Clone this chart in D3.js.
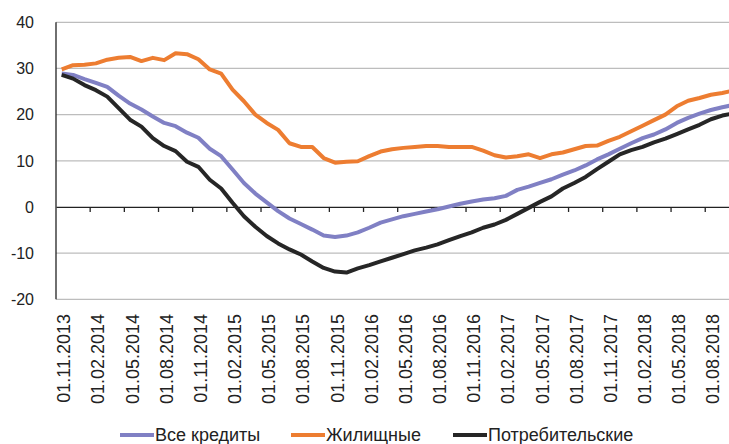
<html>
<head>
<meta charset="utf-8">
<style>
  body { margin: 0; background: white; font-family: "Liberation Sans", sans-serif; }
  svg { display: block; overflow: hidden; }
</style>
<script src="https://cdn.jsdelivr.net/npm/d3@7"></script>
</head>
<body>
<svg id="chart"></svg>
<script>

// monthly categories, 01.11.2013 .. 01.10.2018 (the last one is cut by the frame)
let months = d3.timeMonth.range(new Date(2013, 10, 1), new Date(2018, 10, 1))
let fmt = d3.timeFormat("%d.%m.%Y")
let categories = months.map(d => fmt(d))

let tickLabels = ["01.11.2013", "01.02.2014", "01.05.2014", "01.08.2014", "01.11.2014",
  "01.02.2015", "01.05.2015", "01.08.2015", "01.11.2015", "01.02.2016", "01.05.2016",
  "01.08.2016", "01.11.2016", "01.02.2017", "01.05.2017", "01.08.2017", "01.11.2017",
  "01.02.2018", "01.05.2018", "01.08.2018"]

let yTicks = [-20, -10, 0, 10, 20, 30, 40]

let allLoans = [28.9, 28.6, 27.7, 26.9, 26.0, 24.1, 22.4, 21.1, 19.6, 18.2,
  17.5, 16.1, 15.0, 12.6, 11.0, 8.1, 5.2, 2.9, 1.0, -0.9,
  -2.5, -3.7, -4.9, -6.2, -6.5, -6.2, -5.5, -4.5, -3.4, -2.7,
  -2.0, -1.5, -1.0, -0.5, 0.1, 0.7, 1.2, 1.6, 1.9, 2.4,
  3.7, 4.4, 5.2, 6.0, 7.0, 7.9, 9.0, 10.3, 11.4, 12.6,
  13.8, 14.9, 15.7, 16.8, 18.2, 19.3, 20.2, 21.0, 21.6, 22.1]

let housing = [29.8, 30.7, 30.8, 31.1, 31.9, 32.3, 32.5, 31.6, 32.3, 31.8,
  33.3, 33.1, 32.0, 29.8, 28.9, 25.4, 22.9, 20.0, 18.2, 16.7,
  13.8, 13.0, 13.0, 10.6, 9.6, 9.8, 9.9, 11.0, 12.0, 12.5,
  12.8, 13.0, 13.2, 13.2, 13.0, 13.0, 13.0, 12.2, 11.2, 10.7,
  11.0, 11.4, 10.6, 11.4, 11.8, 12.5, 13.2, 13.3, 14.3, 15.2,
  16.4, 17.6, 18.8, 20.0, 21.8, 23.0, 23.6, 24.3, 24.7, 25.2]

let consumer = [28.6, 27.8, 26.4, 25.3, 23.9, 21.4, 18.9, 17.4, 14.9, 13.2,
  12.1, 9.8, 8.7, 5.9, 4.0, 0.9, -2.0, -4.3, -6.3, -7.9,
  -9.2, -10.3, -11.8, -13.2, -14.0, -14.2, -13.3, -12.6, -11.8, -11.0,
  -10.2, -9.4, -8.8, -8.1, -7.2, -6.3, -5.5, -4.5, -3.8, -2.8,
  -1.5, -0.2, 1.1, 2.3, 4.0, 5.2, 6.5, 8.2, 9.8, 11.4,
  12.3, 13.0, 14.0, 14.8, 15.8, 16.8, 17.8, 19.0, 19.8, 20.3]

let seriesNames = ["Все кредиты", "Жилищные", "Потребительские"]
let seriesColors = ["#8080c4", "#ed7d31", "#262626"]

let width = 729
let height = 444
let left = 56
let step = 11.39

let svg = d3.select("#chart")
  .attr("width", width)
  .attr("height", height)

let x = d3.scaleBand()
  .domain(categories)
  .range([left, left + step * categories.length])

let y = d3.scaleLinear()
  .domain([-20, 40])
  .range([299.3, 22.3])

// gridlines
svg.append("g").selectAll("line")
  .data(yTicks.filter(d => d != 0))
  .enter().append("line")
  .attr("x1", left).attr("x2", x.range()[1])
  .attr("y1", d => y(d)).attr("y2", d => y(d))
  .attr("stroke", "#bdbdbd")
  .attr("stroke-width", 1.3)

// y labels
svg.append("g").selectAll("text")
  .data(yTicks)
  .enter().append("text")
  .attr("x", 34)
  .attr("y", d => y(d))
  .attr("dy", "0.36em")
  .attr("text-anchor", "end")
  .attr("font-size", 16)
  .attr("fill", "#222")
  .text(d => d)

// y axis line
svg.append("line")
  .attr("x1", left).attr("x2", left)
  .attr("y1", y(40)).attr("y2", y(-20))
  .attr("stroke", "#222").attr("stroke-width", 1.3)

// zero line with category ticks every 3 months
let xAxis = d3.axisBottom(x)
  .tickValues(categories.filter((d, i) => i % 3 == 0))
  .tickSize(0)
  .tickFormat("")
let gx = svg.append("g")
  .attr("transform", `translate(0,${y(0)})`)
  .call(xAxis)
gx.select(".domain").attr("stroke", "#222").attr("stroke-width", 1.3)
gx.selectAll(".tick").remove()

svg.append("g").selectAll("line")
  .data(categories.filter((d, i) => i % 3 == 0 && i > 0))
  .enter().append("line")
  .attr("x1", d => x(d)).attr("x2", d => x(d))
  .attr("y1", y(0)).attr("y2", y(0) + 5)
  .attr("stroke", "#222").attr("stroke-width", 1.3)

// rotated date labels
svg.append("g").selectAll("text")
  .data(tickLabels)
  .enter().append("text")
  .attr("transform", d => `translate(${x(d) + x.bandwidth() / 2 + 2},314) rotate(-90)`)
  .attr("dy", "0.36em")
  .attr("text-anchor", "end")
  .attr("font-size", 18)
  .attr("fill", "#222")
  .text(d => d)

// lines
let allSeries = [allLoans, housing, consumer]
let line = d3.line()
  .x((d, i) => x(categories[i]) + x.bandwidth() / 2)
  .y(d => y(d))

svg.append("g").selectAll("path")
  .data(allSeries)
  .enter().append("path")
  .attr("d", d => line(d))
  .attr("fill", "none")
  .attr("stroke", (d, i) => seriesColors[i])
  .attr("stroke-width", 4)
  .attr("stroke-linejoin", "round")

// legend
let legendX = [120, 291, 453]
let leg = svg.append("g").selectAll("g")
  .data(seriesNames)
  .enter().append("g")
  .attr("transform", (d, i) => `translate(${legendX[i]},435)`)
leg.append("line")
  .attr("x1", 0).attr("x2", 34)
  .attr("stroke", (d, i) => seriesColors[i])
  .attr("stroke-width", 4)
leg.append("text")
  .attr("x", 35)
  .attr("dy", "0.36em")
  .attr("font-size", 18)
  .attr("fill", "#222")
  .text(d => d)

</script>
</body>
</html>
